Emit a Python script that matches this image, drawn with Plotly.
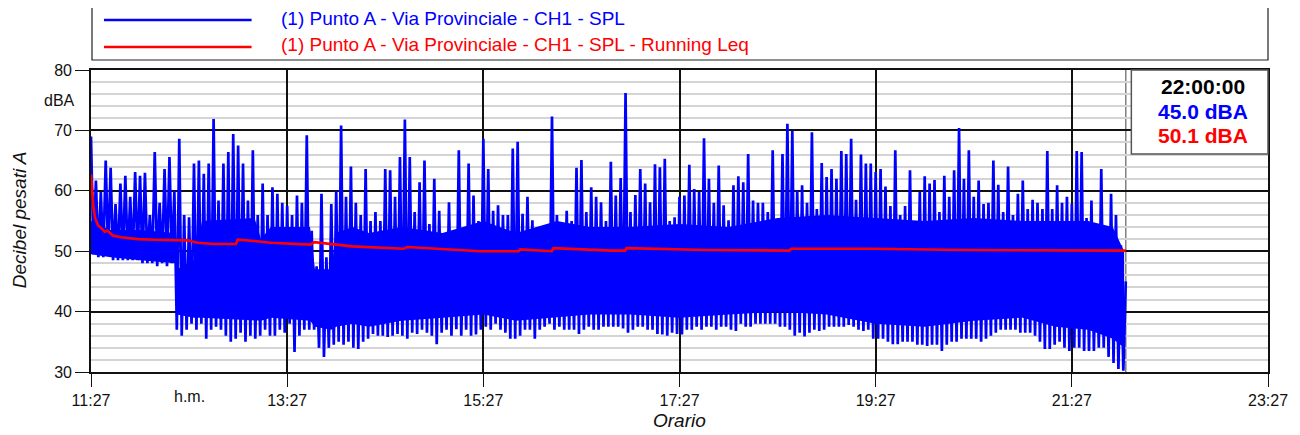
import pandas as pd
import plotly.graph_objects as go

# ---------------- data ----------------
start_time = "2024-01-01 11:27"
bin_minutes = 3  # each bin: max (hi) and min (lo) SPL level, dBA

spl_hi = [
    69, 61.7, 59.8, 65, 63.8, 57.8, 61.2, 62.5, 59, 63.1,
    62.5, 63, 56, 66.4, 58, 63.6, 65.6, 60, 68.6, 56,
    55.6, 64.5, 65, 62.8, 64.5, 71.9, 58.4, 64.5, 66.4, 69.4,
    67.5, 64.5, 58.4, 66.7, 56, 61.2, 56, 60.6, 59.5, 58,
    57.5, 56, 59.2, 58, 69.2, 53.4, 47.5, 59.5, 49, 57.8,
    60, 70.8, 59, 64, 58, 56, 63.6, 55, 56.5, 55,
    63.6, 63.4, 59, 65.6, 71.8, 65.6, 56.5, 61.4, 65, 54.5,
    62, 56.7, 52.6, 58.1, 53, 66.7, 52.9, 64.5, 59.2, 55,
    68.6, 63.6, 56.7, 57.6, 56, 56, 67, 68.1, 56.2, 59,
    55.1, 54, 51.8, 50.7, 72.3, 56, 53, 56.7, 55, 63.8,
    65.1, 56.5, 60.6, 59, 58.1, 55, 64.8, 59.2, 62.1, 76.2,
    56.5, 59.3, 63.6, 61.2, 58.1, 64.4, 63.9, 65.3, 55, 55.6,
    59, 59.2, 64.3, 60.3, 59.8, 68.7, 62, 58, 64.2, 57.6,
    55.1, 60.9, 62.4, 61.4, 66.1, 58.4, 58, 58, 56.5, 66.7,
    55, 66.1, 71.1, 69.9, 60.1, 60.9, 58, 69.7, 57, 64.6,
    62.3, 63.6, 62, 66.6, 66.1, 68.6, 58.5, 66, 64.5, 64.5,
    63.1, 63.6, 60.7, 57.5, 66.7, 56, 57.5, 63.4, 53.5, 59.8,
    62.4, 61.2, 61.8, 56.5, 62.5, 59, 63.4, 70.4, 62, 66.7,
    59, 61.7, 57.8, 58, 65, 61, 56.5, 64, 56, 59.5,
    61.7, 57, 58.5, 58, 57, 66.6, 57, 60.9, 58, 59,
    57.8, 66.6, 66.4, 55.5, 58.4, 54, 63.6, 53, 59.5, 56, 51,
]
spl_lo = [
    49.5, 49, 49, 49.5, 48.5, 48.5, 48.5, 48.5, 48.5, 48.5,
    48, 48, 48, 47.5, 48, 47.5, 48, 37, 36, 37,
    38, 37, 38, 35.5, 37, 37.5, 37, 36, 35, 35.5,
    36.5, 35, 36, 35.5, 36, 37, 36, 36, 37, 36.5,
    38, 33.3, 36, 37, 37, 37, 34, 32.5, 34, 34.5,
    35, 34.5, 35, 34, 33.8, 35, 35.5, 36.3, 36, 36,
    35.8, 36, 36.3, 36, 35.5, 36.5, 36.3, 37, 36.5, 36,
    34.6, 36.5, 37, 36, 37.1, 36, 37, 36, 36.2, 37,
    37.5, 37, 38, 37, 36.5, 35.5, 35.5, 36, 37, 37,
    35.5, 37, 37.5, 38, 37, 37.5, 37, 37, 37, 36.3,
    37, 37.5, 37, 37, 37.5, 37.5, 37.5, 37.5, 37.2, 36.5,
    37, 37.5, 37.5, 37, 37, 36.3, 36.2, 36, 36.5, 36.3,
    36.2, 37, 37, 37.5, 37, 37.5, 37.5, 37, 37.5, 37.5,
    37, 36.8, 38, 37.5, 37.5, 38, 38, 38, 38, 38,
    37.5, 37.5, 37, 36, 36.5, 35.9, 36.5, 37, 36.8, 37,
    37.5, 37.5, 37.5, 37.5, 37.8, 37.5, 37, 36.8, 37, 35.5,
    35.5, 35.5, 35, 34.6, 34.6, 35, 35, 35, 34.5, 34.5,
    34.3, 34.5, 34.5, 33.5, 34.5, 35, 35, 35.5, 35.5, 35.5,
    35.5, 35, 35.5, 36, 36.5, 37, 37, 37, 37, 36.5,
    36.5, 36.5, 36, 35, 33.8, 33.8, 34.5, 35, 34, 33.5,
    34, 34, 33.5, 33.5, 33.5, 34, 34, 32.5, 31.5, 30.5, 30.2,
]

# dense core of the SPL trace (where the signal fills the band solid): minutes, top, bottom
core_minutes = [0, 12, 30, 51.5, 52.5, 63, 68, 100, 104, 110, 134, 137, 147, 150, 160,
                170, 190, 215, 240, 260, 285, 305, 330, 360, 390, 420, 450,
                480, 510, 540, 570, 590, 610, 625, 632]
core_top = [55, 53.5, 53.5, 53, 47, 48.5, 55, 55.5, 52, 54, 54, 47, 47, 53, 54,
            53, 54, 53, 55, 53, 55, 54, 54, 54.5, 54, 55.5, 56,
            55.5, 55, 55.5, 55, 55, 55, 54, 50]
core_bottom = [49.5, 49, 48.5, 48, 39.5, 39, 39, 38.5, 38.5, 39, 38.5, 37.5, 37, 37.5, 38,
               37.5, 38.5, 39, 39.5, 38.5, 39, 39.5, 39.5, 39, 39.5, 40, 39.5,
               38, 37.5, 38.5, 39, 37.5, 37, 35.5, 34]

cursor_label = "22:00:00"
cursor_minute = 633
spl_at_cursor = 45.0
leq_at_cursor = 50.1

# running Leq: (minutes from start, dBA)
leq_minutes = [0, 0.7, 1.4, 2.5, 4.3, 7.5, 8.5, 10, 13.4, 18.5, 28.7, 38.9, 51, 59,
               65.3, 75.5, 88.7, 89.7, 99.9, 110, 134.4, 136.5, 159.9, 191.4, 193.4,
               238.1, 261.6, 262.6, 281.9, 282.9, 318.5, 326.6, 327.6, 376.5, 427.3,
               428.3, 477.1, 535, 633]
leq_db = [62.7, 59, 57.4, 55.5, 54.3, 53.5, 53.2, 53.4, 52.6, 52.3, 52, 51.9, 51.9, 51.8,
          51.4, 51.2, 51.2, 51.9, 51.7, 51.4, 51.1, 51.5, 50.8, 50.4, 50.7,
          50.0, 50.0, 50.3, 50.0, 50.5, 50.1, 50.1, 50.5, 50.2, 50.1,
          50.4, 50.4, 50.2, 50.1]

tick_hours = [0, 2, 4, 6, 8, 10, 12]
tick_labels = ["11:27", "13:27", "15:27", "17:27", "19:27", "21:27", "23:27"]
y_ticks = [30, 40, 50, 60, 70, 80]

name_spl = "(1) Punto A - Via Provinciale - CH1 - SPL"
name_leq = "(1) Punto A - Via Provinciale - CH1 - SPL - Running Leq"

# ---------------- build series ----------------
base = pd.Timestamp(start_time)


def at(m):
    return base + pd.Timedelta(minutes=m)


spl_t, spl_v = [], []
for k, (h, l) in enumerate(zip(spl_hi, spl_lo)):
    spl_t += [at(bin_minutes * k), at(bin_minutes * k + bin_minutes / 2)]
    spl_v += [h, l]
spl_t.append(at(cursor_minute))
spl_v.append(spl_at_cursor)

core_t = [at(m) for m in core_minutes]
leq_t = [at(m) for m in leq_minutes]
cursor_t = at(cursor_minute)

FONT = "Arial, Liberation Sans, sans-serif"
BLUE = "#0000ff"
RED = "#ff0000"

fig = go.Figure()
fig.add_trace(go.Scatter(x=core_t, y=core_bottom, mode="lines", line=dict(width=0, color=BLUE),
                         hoverinfo="skip", showlegend=False))
fig.add_trace(go.Scatter(x=core_t, y=core_top, mode="lines", line=dict(width=0, color=BLUE),
                         fill="tonexty", fillcolor=BLUE, hoverinfo="skip", showlegend=False))
fig.add_trace(go.Scatter(x=spl_t, y=spl_v, mode="lines", name=name_spl,
                         line=dict(color=BLUE, width=2.7, simplify=False), showlegend=False))
fig.add_trace(go.Scatter(x=leq_t, y=leq_db, mode="lines", name=name_leq,
                         line=dict(color=RED, width=2.6), showlegend=False))

# page offset (browser body margin) and plot box in screen pixels
OFF = 8
W, H = 1300 - OFF, 435 - OFF
PL, PR, PT, PB = 91, 1271, 70, 372  # plot area on screen
L, T = PL - OFF, PT - OFF
R = (OFF + W) - PR
B = (OFF + H) - PB
PW, PH = PR - PL, PB - PT


def px(xp):
    return (xp - PL) / PW


def py(yp):
    return (PB - yp) / PH


shapes = [
    dict(type="line", xref="x", yref="paper", x0=cursor_t, x1=cursor_t, y0=0, y1=1,
         line=dict(color="#808080", width=1.5), layer="below"),
    dict(type="rect", xref="paper", yref="paper", x0=px(1134), x1=1.0, y0=py(154), y1=1.0,
         line=dict(color="#555555", width=1.5), fillcolor="white", layer="above"),
    dict(type="rect", xref="paper", yref="paper", x0=px(92), x1=1.0, y0=py(60), y1=py(6),
         line=dict(color="#222222", width=1.2), fillcolor="white"),
    dict(type="line", xref="paper", yref="paper", x0=px(104), x1=px(252), y0=py(20), y1=py(20),
         line=dict(color=BLUE, width=2.5)),
    dict(type="line", xref="paper", yref="paper", x0=px(104), x1=px(252), y0=py(47), y1=py(47),
         line=dict(color=RED, width=2.5)),
]

annotations = [
    dict(text=name_spl, xref="paper", yref="paper", x=px(279), y=py(19), xanchor="left",
         yanchor="middle", showarrow=False, font=dict(family=FONT, size=19, color=BLUE)),
    dict(text=name_leq, xref="paper", yref="paper", x=px(279), y=py(45), xanchor="left",
         yanchor="middle", showarrow=False, font=dict(family=FONT, size=19, color=RED)),
    dict(text="<b>" + cursor_label + "</b>", xref="paper", yref="paper", x=px(1206), y=py(87),
         xanchor="center", yanchor="middle", showarrow=False,
         font=dict(family=FONT, size=21, color="black")),
    dict(text="<b>%.1f dBA</b>" % spl_at_cursor, xref="paper", yref="paper", x=px(1206),
         y=py(111), xanchor="center", yanchor="middle", showarrow=False,
         font=dict(family=FONT, size=21, color=BLUE)),
    dict(text="<b>%.1f dBA</b>" % leq_at_cursor, xref="paper", yref="paper", x=px(1206),
         y=py(135), xanchor="center", yanchor="middle", showarrow=False,
         font=dict(family=FONT, size=21, color=RED)),
    dict(text="dBA", xref="paper", yref="y", x=px(77), y=75, xanchor="right",
         yanchor="middle", showarrow=False, font=dict(family=FONT, size=16, color="#111")),
    dict(text="h.m.", xref="x", yref="paper", x=base + pd.Timedelta(hours=1), y=py(396),
         xanchor="center", yanchor="middle", showarrow=False,
         font=dict(family=FONT, size=16, color="#111")),
    dict(text="<i>Decibel pesati A</i>", xref="paper", yref="paper", x=px(19), y=py(220),
         xanchor="center", yanchor="middle", textangle=-90, showarrow=False,
         font=dict(family=FONT, size=19, color="#111")),
    dict(text="<i>Orario</i>", xref="paper", yref="paper", x=px(681), y=py(420),
         xanchor="center", yanchor="middle", showarrow=False,
         font=dict(family=FONT, size=19, color="#111")),
]

fig.update_layout(
    width=W, height=H, autosize=False,
    margin=dict(l=L, r=R, t=T, b=B, pad=0),
    paper_bgcolor="white", plot_bgcolor="white",
    font=dict(family=FONT, size=16, color="#111"),
    shapes=shapes, annotations=annotations, showlegend=False,
    xaxis=dict(
        type="date",
        range=[base, base + pd.Timedelta(hours=12)],
        tickmode="array",
        tickvals=[base + pd.Timedelta(hours=h) for h in tick_hours],
        ticktext=tick_labels,
        showgrid=True, gridcolor="#111111", gridwidth=1.5,
        ticks="outside", ticklen=13, tickwidth=1.3, tickcolor="#111",
        showline=True, linecolor="#111", linewidth=1.6, mirror=True,
        zeroline=False, tickfont=dict(family=FONT, size=16, color="#111"),
    ),
    yaxis=dict(
        range=[30, 80],
        tickmode="array", tickvals=y_ticks,
        showgrid=True, gridcolor="#111111", gridwidth=1.5,
        minor=dict(dtick=2, tick0=30, showgrid=True, gridcolor="#d4d4d4", gridwidth=1.5),
        ticks="outside", ticklen=14, tickwidth=1.3, tickcolor="#111",
        showline=True, linecolor="#111", linewidth=1.6, mirror=True,
        zeroline=False, tickfont=dict(family=FONT, size=16, color="#111"),
    ),
)

fig.write_html("out.html")
